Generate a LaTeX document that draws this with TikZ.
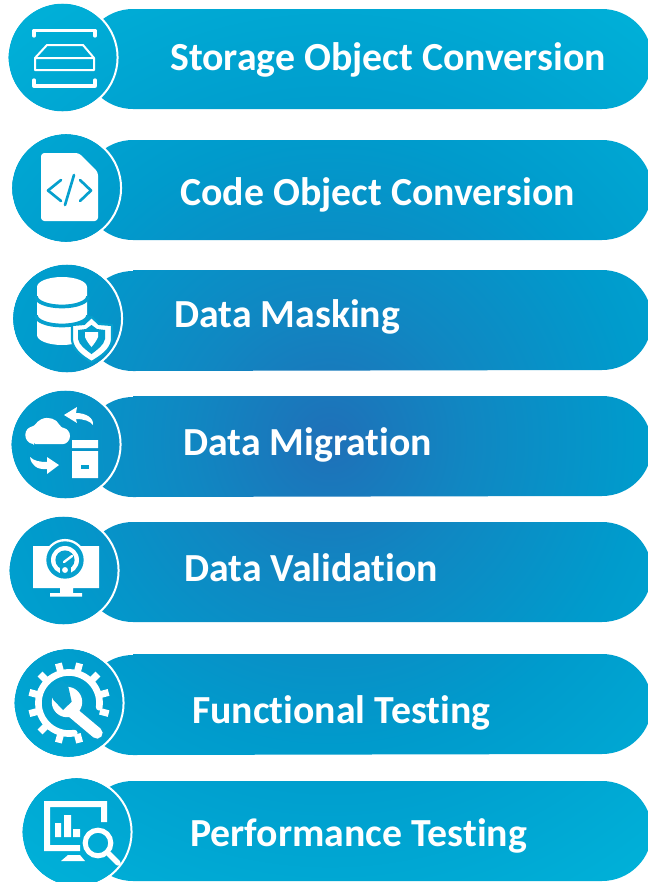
\documentclass[tikz,border=0pt]{standalone}
\usepackage{fontspec}
\setmainfont[Ligatures=NoCommon]{Carlito}
\definecolor{c0}{HTML}{1F70B8}
\definecolor{c1}{HTML}{1087C2}
\definecolor{c2}{HTML}{009BCC}
\definecolor{c3}{HTML}{00B2D9}
\definecolor{iconblue}{HTML}{06A0CE}
\pgfdeclareradialshading{bluerad}{\pgfpoint{0bp}{0bp}}{
 color(0bp)=(c0); color(5bp)=(c1); color(11bp)=(c2); color(19.5bp)=(c3); color(100bp)=(c3)}
\tikzset{
 x=0.75pt,y=-0.75pt,
 lbl/.style={text=white,font=\fontsize{29.85}{32}\selectfont\bfseries,inner sep=0pt,anchor=base west},
 ic/.style={draw=white,line width=2.5pt,line cap=round,line join=round},
 icf/.style={fill=white,draw=none},
 icl/.style={draw=iconblue,line cap=round,line join=round},
}
\newcommand{\bigshade}{\shade[shading=bluerad] (-370,-260) rectangle (1030,1140);}
\newcommand{\pill}[2]{\begin{scope}\clip (133,#1) -- (602,#1) arc[start angle=90,end angle=0,radius=37.5pt] arc[start angle=0,end angle=-90,radius=37.5pt] -- (133,#2) arc[start angle=270,end angle=90,radius=37.5pt] -- cycle; \bigshade\end{scope}}
\newcommand{\disc}[2]{\begin{scope}\clip (#1,#2) circle[radius=40.5pt]; \bigshade\end{scope}\draw[white,line width=1.5pt] (#1,#2) circle[radius=41.3pt];}
\begin{document}
\begin{tikzpicture}
\useasboundingbox (0,0) rectangle (648,882);
\fill[white] (0,0) rectangle (648,882);
\pill{9}{109}\pill{140}{240}\pill{270}{371}\pill{396}{497}\pill{522}{622}\pill{654}{755}\pill{781}{881}
\disc{62.5}{57.5}\disc{66}{188}\disc{67}{318.5}\disc{65.5}{444.5}\disc{63.5}{570.5}\disc{68.5}{703}\disc{76.5}{832}
\node[lbl] (t1) at (170,70) {Storage Object Conversion};
\node[lbl] (t2) at (180,205) {Code Object Conversion};
\node[lbl] (t3) at (174,327) {Data Masking};
\node[lbl] (t4) at (183,455) {Data Migration};
\node[lbl] (t5) at (184,581) {Data Validation};
\node[lbl] (t6) at (192,723) {Functional Testing};
\node[lbl] (t7) at (190,846) {Performance Testing};
% Icon 1
\draw[ic] (34,36) -- (34,30.5) -- (95,30.5) -- (95,36);
\draw[ic] (34,80) -- (34,86) -- (95,86) -- (95,80);
\draw[white,line width=1.5pt,line join=round] (35,58) -- (47,45) -- (83,45) -- (94,58) -- (94,70) -- (35,70) -- cycle (35,58) -- (94,58);
% Icon 2
\fill[white,rounded corners=2.5pt] (41,153) -- (79,153) -- (98,172) -- (98,221) -- (41,221) -- cycle;
\draw[icl,line width=2pt] (61,180) -- (48,190.5) -- (61,201) (80,180) -- (91,190.5) -- (80,201) (74,175) -- (65,205);
% Icon 3
\fill[white] (37,287) arc[start angle=180,end angle=0,x radius=18.75pt,y radius=7.5pt] -- (87,335) arc[start angle=0,end angle=-180,x radius=18.75pt,y radius=7.5pt] -- cycle;
\draw[iconblue,line width=2.8pt] (36,296.5) arc[start angle=180,end angle=360,x radius=19.5pt,y radius=7.5pt];
\draw[iconblue,line width=2.8pt] (36,315.5) arc[start angle=180,end angle=360,x radius=19.5pt,y radius=7.5pt];
\fill[white,draw=iconblue,line width=1.6pt,line join=round] (91.5,317) -- (99,324) -- (112,325) -- (112,340) .. controls (111,350) and (100,357) .. (91.5,362) .. controls (83,357) and (73,350) .. (72,340) -- (72,325) -- (84,324) -- cycle;
\fill[iconblue] (91.5,325) -- (97,329) -- (105,330) -- (105,339) .. controls (104,345) and (97,350) .. (91.5,354) .. controls (86,350) and (79,345) .. (78,339) -- (78,330) -- (86,329) -- cycle;
\fill[white] (85,332) -- (98,332) -- (98,337) .. controls (97,340) and (94,344) .. (91.5,347) .. controls (89,344) and (86,340) .. (85,337) -- cycle;
% Icon 4
\fill[white,rounded corners=1pt] (34,444) -- (62,444) arc[start angle=-90,end angle=80,radius=6pt] -- (60,426) arc[start angle=25,end angle=150,radius=10.5pt] -- (31,427) arc[start angle=110,end angle=270,radius=6.5pt] -- cycle;
\fill[icf] (64,415) -- (77,407) -- (76,413) .. controls (86,413) and (94,418) .. (93,425) .. controls (90,421) and (84,419) .. (76,419) -- (77,423) -- cycle;
\fill[icf] (72,440) rectangle (98,448) (72,451) rectangle (98,478);
\fill[iconblue] (81,465) rectangle (89,469);
\fill[icf] (59,465) -- (47,474) -- (47,469) .. controls (37,470) and (31,465) .. (30,457) .. controls (34,461) and (40,462) .. (47,462) -- (47,457) -- cycle;
% Icon 5
\fill[icf] (33,546) rectangle (99,588) (60,588) rectangle (73,594) (50,593) rectangle (82,596.5);
\fill[white] (65,560) circle[radius=15.8pt];
\fill[iconblue] (65,560) circle[radius=14pt];
\fill[white] (65,560) circle[radius=10.5pt];
\fill[iconblue] (65,560) circle[radius=7.2pt];
\fill[iconblue] (60,565) rectangle (71,574);
\draw[white,line width=1.8pt,line cap=round] (64,562) -- (72,556);
\fill[white] (65,570) circle[radius=2.2pt];
% Icon 6
\draw[white,line width=5pt,line cap=round] ({69+30.5*cos(-8)},{703-30.5*sin(-8)}) arc[start angle=-8,end angle=280,radius=22.9pt];
\foreach \a in {15,45,75,105,135,165,195,225,255,285}{
 \draw[white,line width=5.2pt] ({69+32*cos(\a)},{703-32*sin(\a)}) -- ({69+41*cos(\a)},{703-41*sin(\a)});
}
\draw[white,line width=5pt] ({69+32*cos(-15)},{703-32*sin(-15)}) -- ({69+41*cos(-15)},{703-41*sin(-15)});
\draw[iconblue,line width=12pt,line cap=round] (72,712) -- (97,733);
\fill[iconblue] (67,702) circle[radius=13.5pt];
\fill[white] (67,702) circle[radius=11.4pt];
\draw[white,line width=8.5pt,line cap=round] (72,712) -- (97,733);
\fill[iconblue] (53.5,700) -- (63,710) -- (71.7,701.7) -- (68.3,686.7) -- (62,680) -- (48,690) -- cycle;
% Icon 7
\fill[icf] (44,801) -- (107,801) -- (107,822) -- (101,822) -- (101,807) -- (50,807) -- (50,845) -- (80,845) -- (80,851) -- (44,851) -- cycle;
\fill[icf] (55,823) rectangle (61,837) (64,815) rectangle (71,837) (73,829) rectangle (80,837);
\fill[icf] (68,855) -- (80,855) -- (85,861) -- (61,861) -- cycle;
\draw[white,line width=3.8pt] (98,843) circle[radius=9.6pt];
\draw[white,line width=4pt,line cap=round] (109,854) -- (118,863);
\end{tikzpicture}
\end{document}
